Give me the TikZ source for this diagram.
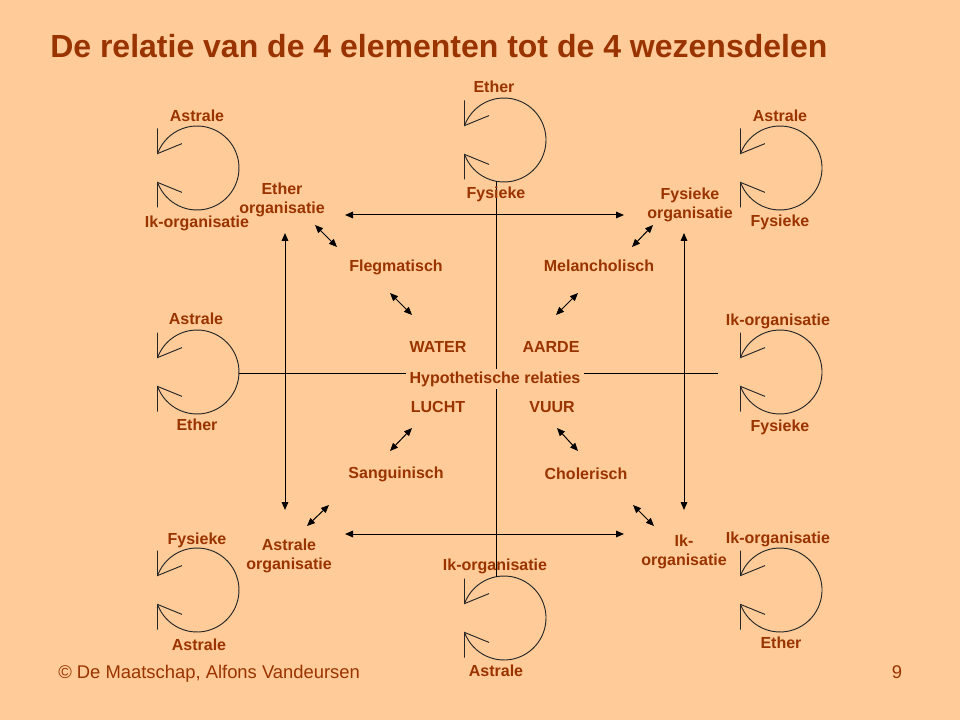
\documentclass[tikz,border=0pt]{standalone}
\usepackage{fontspec}
\setmainfont{Liberation Sans}
\usetikzlibrary{arrows.meta}
\definecolor{bg}{HTML}{FFCC99}
\definecolor{tx}{HTML}{993300}
\begin{document}
\begin{tikzpicture}[x=0.75pt,y=-0.75pt,
  lbl/.style={text=tx,font=\fontsize{12}{14.3}\selectfont\bfseries,inner sep=0pt,align=center,anchor=base},
  con/.style={draw=black,line width=0.75pt},
  dbl/.style={con,{Triangle[length=6pt,width=5pt]}-{Triangle[length=6pt,width=5pt]}},
  ring/.style={draw=black!85,line width=0.7pt},
  ringarrow/.pic={
    \draw[ring] (160:42) arc[start angle=160,end angle=-160,radius=42];
    \draw[ring] (-39.5,-39.5) -- (-39.5,-14.4) -- (-15,-24.4);
    \draw[ring] (-39.5,39.5) -- (-39.5,14.4) -- (-15,24.4);
  }]
\fill[bg] (0,0) rectangle (960,720);
\useasboundingbox (0,0) rectangle (960,720);

% title and footer
\node[text=tx,font=\fontsize{24}{28}\selectfont\bfseries,inner sep=0pt,anchor=base west] (title) at (50,58) {De relatie van de 4 elementen tot de 4 wezensdelen};
\node[text=tx,font=\fontsize{13.8}{16}\selectfont,inner sep=0pt,anchor=base west] (foot) at (58,678) {© De Maatschap, Alfons Vandeursen};
\node[text=tx,font=\fontsize{13.8}{16}\selectfont,inner sep=0pt,anchor=base] (page) at (897,678) {9};

% circular arrows
\pic (tl) at (197,168) {ringarrow};
\pic (tc) at (504,140) {ringarrow};
\pic (tr) at (780,168) {ringarrow};
\pic (ml) at (197,372) {ringarrow};
\pic (mr) at (780,372) {ringarrow};
\pic (bl) at (197,590) {ringarrow};
\pic (bc) at (504,618) {ringarrow};
\pic (br) at (780,590) {ringarrow};

% endpoints
\coordinate (vtop) at (496,181.5);
\coordinate (vbot) at (496,577);
\coordinate (hleft) at (239,373);
\coordinate (hright) at (718,373);
\coordinate (ta1) at (345,215);  \coordinate (ta2) at (624,215);
\coordinate (ba1) at (345,534);  \coordinate (ba2) at (624,534);
\coordinate (la1) at (285,233);  \coordinate (la2) at (285,510);
\coordinate (ra1) at (684,233);  \coordinate (ra2) at (684,510);
\coordinate (d1a) at (315,225);  \coordinate (d1b) at (337,247);
\coordinate (d2a) at (390,293);  \coordinate (d2b) at (412,315);
\coordinate (d3a) at (653,225);  \coordinate (d3b) at (632,247);
\coordinate (d4a) at (578,293);  \coordinate (d4b) at (556,315);
\coordinate (d5a) at (412,428);  \coordinate (d5b) at (390,451);
\coordinate (d6a) at (557,428);  \coordinate (d6b) at (578,451);
\coordinate (d7a) at (329,505);  \coordinate (d7b) at (307,526);
\coordinate (d8a) at (633,505);  \coordinate (d8b) at (654,526);

% cross lines
\draw[con] (vtop) -- (vbot);
\draw[con] (hleft) -- (hright);

% arrows
\draw[dbl] (ta1) -- (ta2);
\draw[dbl] (ba1) -- (ba2);
\draw[dbl] (la1) -- (la2);
\draw[dbl] (ra1) -- (ra2);
\foreach \i in {1,...,8} { \draw[dbl] (d\i a) -- (d\i b); }

% circle labels
\node[lbl] (tlA) at (197,121.5) {Astrale};
\node[lbl] (tlB) at (197,227.5) {Ik-organisatie};
\node[lbl] (tcA) at (494,92.5) {Ether};
\node[lbl] (tcB) at (496,198.5) {Fysieke};
\node[lbl] (trA) at (780,121.5) {Astrale};
\node[lbl] (trB) at (780,226.5) {Fysieke};
\node[lbl] (mlA) at (196,324.5) {Astrale};
\node[lbl] (mlB) at (197,430.5) {Ether};
\node[lbl] (mrA) at (778,325.5) {Ik-organisatie};
\node[lbl] (mrB) at (780,431.5) {Fysieke};
\node[lbl] (blA) at (197,544.5) {Fysieke};
\node[lbl] (blB) at (199,650.5) {Astrale};
\node[lbl] (bcA) at (495,570.5) {Ik-organisatie};
\node[lbl] (bcB) at (496,676.5) {Astrale};
\node[lbl] (brA) at (778,543.5) {Ik-organisatie};
\node[lbl] (brB) at (781,648.5) {Ether};

% organisations (base = baseline of last line)
\node[lbl] (eo) at (282,213.5) {Ether\\organisatie};
\node[lbl] (fo) at (690,218.5) {Fysieke\\organisatie};
\node[lbl] (ao) at (289,569.5) {Astrale\\organisatie};
\node[lbl] (io) at (684,565.5) {Ik-\\organisatie};

% temperaments and elements
\node[lbl] (fleg) at (396,271.5) {Flegmatisch};
\node[lbl] (mel) at (599,271.5) {Melancholisch};
\node[lbl] (san) at (396,478.5) {Sanguinisch};
\node[lbl] (cho) at (586,479.5) {Cholerisch};
\node[lbl] (water) at (438,352.5) {WATER};
\node[lbl] (aarde) at (551,352.5) {AARDE};
\node[lbl] (lucht) at (438,412.5) {LUCHT};
\node[lbl] (vuur) at (552,412.5) {VUUR};
\node[lbl,fill=bg,inner xsep=3pt,inner ysep=2pt] (hyp) at (495,383.5) {Hypothetische relaties};
\end{tikzpicture}
\end{document}
